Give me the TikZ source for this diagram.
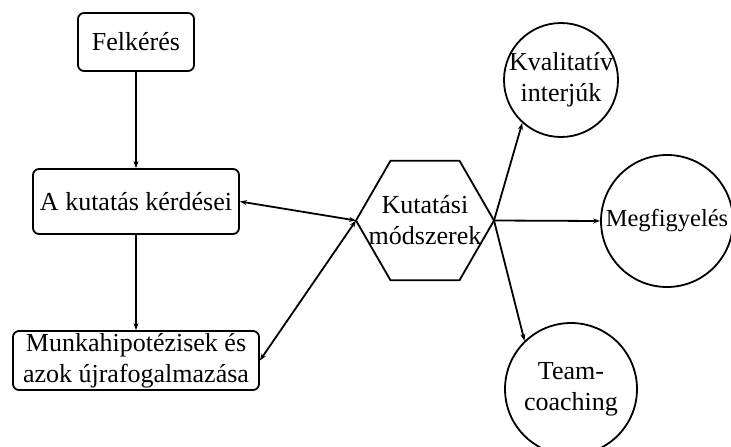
\documentclass[tikz,border=0pt]{standalone}
\usepackage{fontspec}
\setmainfont{Liberation Serif}
\usetikzlibrary{shapes.geometric,arrows.meta}
\begin{document}
\begin{tikzpicture}[x=1pt,y=-1pt,line width=1.8pt,font=\fontsize{26}{31}\selectfont,
  box/.style={draw,rounded corners=6pt,align=center,inner sep=0pt},
  method/.style={draw,circle,align=center,inner sep=0pt},
  arr/.style={-{Stealth[length=7pt,width=5pt]}},
  darr/.style={{Stealth[length=7pt,width=5pt]}-{Stealth[length=7pt,width=5pt]}}]
\useasboundingbox (0,0) rectangle (731,447);
\node[box,minimum width=116,minimum height=58] (felk) at (136,42) {Felkérés};
\node[box,minimum width=206,minimum height=65] (kerd) at (136,201.5) {A kutatás kérdései};
\node[box,minimum width=246,minimum height=59] (munka) at (136,360.5) {Munkahipotézisek és\\azok újrafogalmazása};
\node[draw,regular polygon,regular polygon sides=6,minimum size=138,inner sep=-20pt,outer sep=0pt,align=center] (modsz) at (425,220.5) {Kutatási\\módszerek};
\node[method,minimum size=114,inner sep=-4pt] (kval) at (561,80) {Kvalitatív\\interjúk};
\node[method,minimum size=132,inner sep=-4pt,font=\fontsize{24.5}{31}\selectfont] (megf) at (667,221) {Megfigyelés};
\node[method,minimum size=132] (team) at (571,389) {Team-\\coaching};
\draw[arr] (felk) -- (kerd);
\draw[arr] (kerd) -- (munka);
\draw[darr] (kerd.east) -- (modsz.west);
\draw[darr] (munka.east) -- (modsz.west);
\draw[arr] (modsz.east) -- (kval.228);
\draw[arr] (modsz.east) -- (megf.west);
\draw[arr] (modsz.east) -- (team.134);
\end{tikzpicture}
\end{document}
